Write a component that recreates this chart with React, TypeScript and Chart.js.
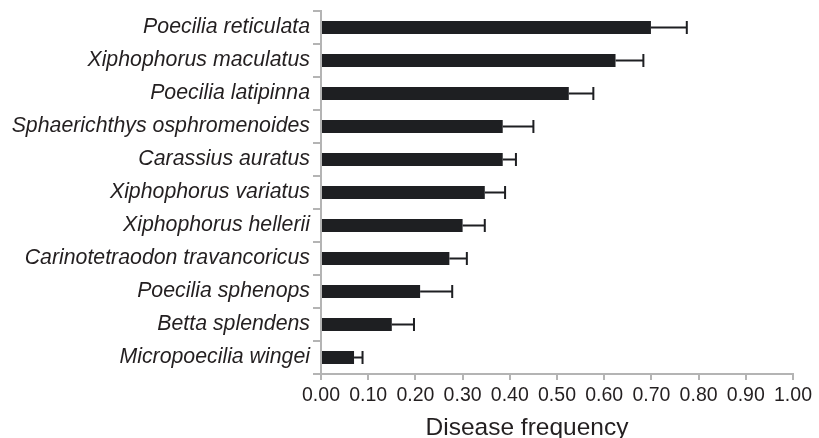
import React, { useEffect, useRef } from "react";
import { Chart, registerables } from "chart.js";

Chart.register(...registerables);

const species = [
  "Poecilia reticulata",
  "Xiphophorus maculatus",
  "Poecilia latipinna",
  "Sphaerichthys osphromenoides",
  "Carassius auratus",
  "Xiphophorus variatus",
  "Xiphophorus hellerii",
  "Carinotetraodon travancoricus",
  "Poecilia sphenops",
  "Betta splendens",
  "Micropoecilia wingei",
];

const frequency = [0.699, 0.624, 0.525, 0.385, 0.385, 0.347, 0.3, 0.272, 0.21, 0.15, 0.07];
const errorPlus = [0.076, 0.059, 0.052, 0.065, 0.028, 0.043, 0.047, 0.037, 0.068, 0.047, 0.018];

const xTicks = [0, 0.1, 0.2, 0.3, 0.4, 0.5, 0.6, 0.7, 0.8, 0.9, 1.0];
const xTitle = "Disease frequency";

const BAR = "#1e1f22";
const AXIS = "#b4b4b4";
const TEXT = "#231f20";

const errorBarPlugin = {
  id: "errorBars",
  afterDatasetsDraw(chart: any) {
    const ctx = chart.ctx;
    const xs = chart.scales.x;
    const meta = chart.getDatasetMeta(0);
    ctx.save();
    ctx.strokeStyle = BAR;
    ctx.lineWidth = 2;
    meta.data.forEach((bar: any, i: number) => {
      const end = xs.getPixelForValue(frequency[i] + errorPlus[i]);
      const y = bar.y;
      const h = bar.height;
      ctx.beginPath();
      ctx.moveTo(bar.x, y);
      ctx.lineTo(end, y);
      ctx.moveTo(end, y - h / 2);
      ctx.lineTo(end, y + h / 2);
      ctx.stroke();
    });
    ctx.restore();
  },
};

const titlePlugin = {
  id: "xTitleText",
  afterDraw(chart: any) {
    const ctx = chart.ctx;
    ctx.save();
    ctx.fillStyle = TEXT;
    ctx.font = "24.5px 'Liberation Sans', Arial, sans-serif";
    ctx.textAlign = "center";
    ctx.textBaseline = "alphabetic";
    ctx.fillText(xTitle, 527, 435);
    ctx.restore();
  },
};

export default function App() {
  const ref = useRef<HTMLCanvasElement | null>(null);
  useEffect(() => {
    if (!ref.current) return;
    const chart = new Chart(ref.current, {
      type: "bar",
      data: {
        labels: species,
        datasets: [
          {
            data: frequency,
            backgroundColor: BAR,
            borderWidth: 0,
            barPercentage: 0.4,
            categoryPercentage: 1,
          },
        ],
      },
      options: {
        indexAxis: "y",
        animation: false,
        responsive: false,
        maintainAspectRatio: false,
        layout: { padding: { top: 11, right: 26, bottom: 0, left: 0 } },
        plugins: { legend: { display: false }, tooltip: { enabled: false } },
        scales: {
          x: {
            min: 0,
            max: 1,
            afterBuildTicks: (scale: any) => {
              scale.ticks = xTicks.map((v) => ({ value: v }));
            },
            afterFit: (scale: any) => {
              scale.height = 64;
            },
            ticks: {
              callback: (v: any) => Number(v).toFixed(2),
              color: TEXT,
              font: { family: "'Liberation Sans', Arial, sans-serif", size: 19.5 },
              padding: 4,
              maxRotation: 0,
              autoSkip: false,
            },
            grid: {
              drawOnChartArea: false,
              drawTicks: true,
              tickLength: 6,
              color: AXIS,
              lineWidth: 2,
            },
            border: { display: true, color: AXIS, width: 2 },
          },
          y: {
            afterFit: (scale: any) => {
              scale.width = 321;
              scale.paddingTop = 0;
              scale.paddingBottom = 0;
            },
            ticks: {
              color: TEXT,
              font: { family: "'Liberation Sans', Arial, sans-serif", size: 21.3, style: "italic" },
              padding: 3,
              autoSkip: false,
            },
            grid: {
              offset: true,
              drawOnChartArea: false,
              drawTicks: true,
              tickLength: 8,
              color: AXIS,
              lineWidth: 2,
            },
            border: { display: true, color: AXIS, width: 2 },
          },
        },
      },
      plugins: [errorBarPlugin, titlePlugin],
    });
    return () => chart.destroy();
  }, []);
  return (
    <div style={{ position: "absolute", left: 0, top: 0, width: 819, height: 438 }}>
      <canvas ref={ref} width={819} height={438} style={{ width: 819, height: 438 }} />
    </div>
  );
}
